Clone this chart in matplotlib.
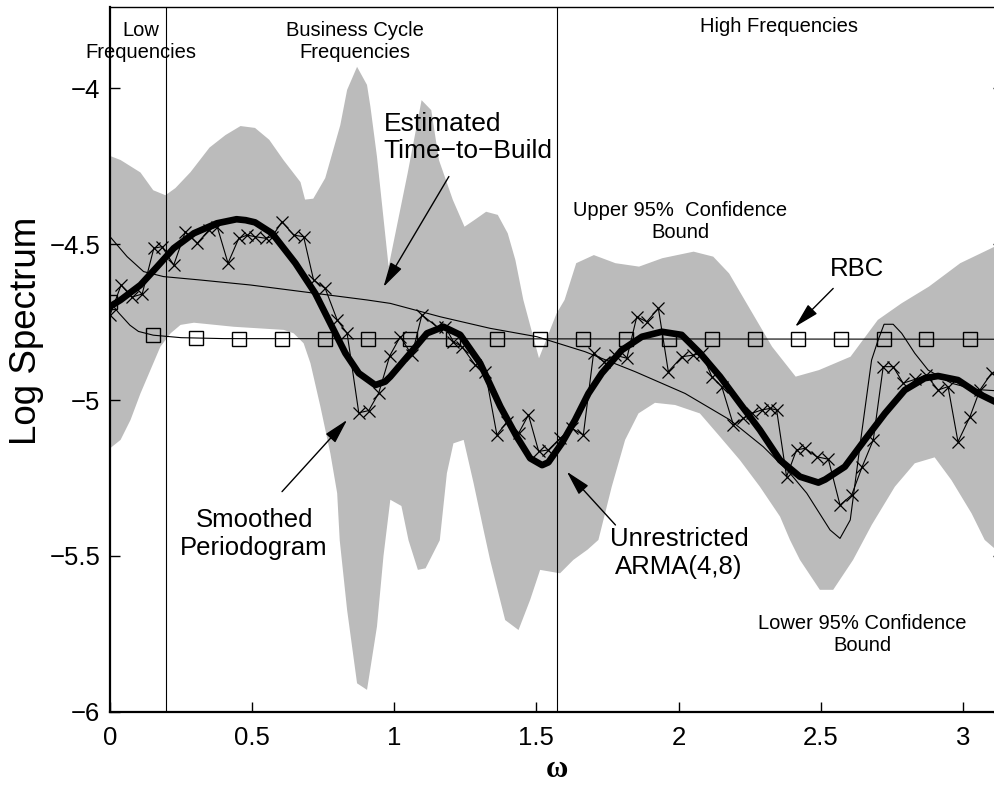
import numpy as np
import matplotlib
matplotlib.use("Agg")
import matplotlib.pyplot as plt

plt.rcParams['font.family'] = ['Liberation Sans', 'DejaVu Sans']

# ---------------- data ----------------
upper_x = [0.0, 0.037, 0.107, 0.152, 0.195, 0.23, 0.283, 0.35, 0.406, 0.459, 0.51, 0.56,
           0.61, 0.670, 0.686, 0.715, 0.757, 0.810, 0.834, 0.869, 0.904, 0.916, 0.939,
           0.980, 1.047, 1.096, 1.13, 1.157, 1.206, 1.247, 1.281, 1.323, 1.364, 1.399,
           1.426, 1.454, 1.509, 1.571, 1.599, 1.640, 1.702, 1.778, 1.861, 1.943, 2.053,
           2.122, 2.178, 2.219, 2.329, 2.412, 2.494, 2.605, 2.701, 2.784, 2.881, 2.991,
           3.112, 3.1416]
upper_y = [-4.217, -4.230, -4.27, -4.327, -4.343, -4.32, -4.269, -4.19, -4.150, -4.121,
           -4.127, -4.165, -4.23, -4.301, -4.357, -4.354, -4.288, -4.118, -4.005, -3.931,
           -3.989, -4.059, -4.219, -4.572, -4.272, -4.038, -4.07, -4.230, -4.358, -4.444,
           -4.423, -4.396, -4.406, -4.465, -4.551, -4.679, -4.866, -4.722, -4.679, -4.561,
           -4.535, -4.561, -4.572, -4.545, -4.524, -4.540, -4.594, -4.658, -4.829, -4.925,
           -4.904, -4.861, -4.743, -4.690, -4.636, -4.561, -4.508, -4.50]

lower_x = [0.0, 0.037, 0.072, 0.107, 0.142, 0.177, 0.213, 0.248, 0.295, 0.435, 0.611,
           0.646, 0.681, 0.705, 0.740, 0.775, 0.799, 0.808, 0.834, 0.869, 0.904, 0.939,
           0.962, 0.986, 1.025, 1.05, 1.083, 1.11, 1.16, 1.185, 1.208, 1.244, 1.279,
           1.314, 1.337, 1.390, 1.437, 1.478, 1.513, 1.583, 1.630, 1.68, 1.718, 1.765,
           1.812, 1.859, 1.917, 1.988, 2.075, 2.146, 2.216, 2.286, 2.357, 2.392, 2.427,
           2.497, 2.544, 2.614, 2.68, 2.761, 2.831, 2.901, 2.960, 3.031, 3.077, 3.1416]
lower_y = [-5.155, -5.128, -5.064, -4.979, -4.904, -4.829, -4.786, -4.759, -4.752, -4.765,
           -4.775, -4.786, -4.818, -4.882, -5.021, -5.171, -5.299, -5.45, -5.674, -5.909,
           -5.930, -5.727, -5.50, -5.32, -5.34, -5.45, -5.545, -5.54, -5.45, -5.235,
           -5.139, -5.128, -5.267, -5.417, -5.513, -5.706, -5.738, -5.641, -5.545, -5.556,
           -5.513, -5.48, -5.449, -5.278, -5.128, -5.043, -5.009, -5.016, -5.043, -5.118,
           -5.193, -5.278, -5.374, -5.449, -5.513, -5.609, -5.609, -5.513, -5.40, -5.278,
           -5.203, -5.184, -5.257, -5.364, -5.449, -5.50]

# smoothed periodogram (x markers)
pgram_x = [0.000, 0.039, 0.076, 0.113, 0.154, 0.183, 0.224, 0.265, 0.307, 0.347, 0.377,
           0.415, 0.453, 0.482, 0.511, 0.547, 0.570, 0.605, 0.646, 0.681, 0.716, 0.757,
           0.799, 0.834, 0.875, 0.910, 0.945, 0.984, 1.021, 1.062, 1.097, 1.150, 1.179,
           1.208, 1.238, 1.285, 1.320, 1.361, 1.396, 1.437, 1.472, 1.508, 1.542, 1.583,
           1.625, 1.665, 1.701, 1.736, 1.777, 1.818, 1.853, 1.888, 1.929, 1.964, 2.012,
           2.052, 2.082, 2.117, 2.152, 2.193, 2.228, 2.257, 2.292, 2.322, 2.345, 2.380,
           2.415, 2.445, 2.486, 2.527, 2.568, 2.609, 2.646, 2.685, 2.720, 2.755, 2.790,
           2.831, 2.872, 2.913, 2.948, 2.983, 3.025, 3.060, 3.101]
pgram_y = [-4.727, -4.631, -4.670, -4.660, -4.513, -4.508, -4.567, -4.460, -4.497, -4.455,
           -4.444, -4.561, -4.481, -4.471, -4.476, -4.481, -4.476, -4.428, -4.471, -4.476,
           -4.615, -4.642, -4.743, -4.786, -5.041, -5.034, -4.978, -4.858, -4.797, -4.856,
           -4.727, -4.765, -4.765, -4.813, -4.829, -4.888, -4.909, -5.112, -5.070, -5.107,
           -5.048, -5.165, -5.160, -5.123, -5.091, -5.112, -4.850, -4.877, -4.856, -4.866,
           -4.733, -4.749, -4.706, -4.909, -4.861, -4.856, -4.850, -4.925, -4.957, -5.080,
           -5.059, -5.043, -5.032, -5.027, -5.032, -5.246, -5.160, -5.155, -5.182, -5.190,
           -5.337, -5.305, -5.214, -5.128, -4.893, -4.893, -4.946, -4.934, -4.920, -4.968,
           -4.957, -5.134, -5.054, -4.968, -4.914]

# unrestricted ARMA(4,8) (thick line)
arma_x = [0.0, 0.037, 0.107, 0.166, 0.224, 0.295, 0.376, 0.445, 0.477, 0.51, 0.570, 0.652,
          0.722, 0.781, 0.828, 0.875, 0.933, 0.968, 0.986, 1.056, 1.115, 1.173, 1.232,
          1.302, 1.373, 1.431, 1.478, 1.52, 1.542, 1.589, 1.636, 1.683, 1.730, 1.800,
          1.871, 1.941, 2.011, 2.076, 2.146, 2.216, 2.286, 2.357, 2.427, 2.492, 2.516,
          2.585, 2.655, 2.726, 2.796, 2.866, 2.913, 2.983, 3.054, 3.112, 3.1416]
arma_y = [-4.700, -4.679, -4.631, -4.572, -4.513, -4.465, -4.433, -4.420, -4.423, -4.430,
          -4.465, -4.561, -4.658, -4.765, -4.850, -4.914, -4.952, -4.941, -4.925, -4.850,
          -4.786, -4.765, -4.791, -4.882, -5.021, -5.118, -5.187, -5.209, -5.200, -5.139,
          -5.064, -4.979, -4.914, -4.840, -4.797, -4.781, -4.791, -4.850, -4.925, -5.011,
          -5.096, -5.193, -5.246, -5.265, -5.255, -5.214, -5.128, -5.043, -4.968, -4.930,
          -4.923, -4.936, -4.979, -5.005, -5.015]

# estimated time-to-build (thin line)
ttb_x = [0.0, 0.06, 0.118, 0.188, 0.318, 0.494, 0.904, 0.986, 1.162, 1.337, 1.502, 1.671,
         1.847, 2.023, 2.181, 2.298, 2.392, 2.451, 2.533, 2.568, 2.604, 2.644, 2.679,
         2.702, 2.723, 2.755, 2.785, 2.831, 2.878, 2.960, 3.042, 3.112, 3.1416]
ttb_y = [-4.476, -4.540, -4.588, -4.604, -4.615, -4.631, -4.679, -4.690, -4.733, -4.770,
         -4.797, -4.845, -4.909, -4.979, -5.064, -5.150, -5.235, -5.299, -5.417, -5.444,
         -5.385, -5.107, -4.872, -4.808, -4.757, -4.757, -4.786, -4.850, -4.904, -4.946,
         -4.966, -4.970, -4.970]

# RBC model (line with squares)
rbc_x = [0.0, 0.03, 0.07, 0.10, 0.152, 0.25, 0.40, 3.1416]
rbc_y = [-4.685, -4.72, -4.76, -4.78, -4.792, -4.800, -4.803, -4.805]
rbc_mx = [0.0, 0.152, 0.303, 0.454, 0.605, 0.757, 0.908, 1.056, 1.208, 1.361, 1.513,
          1.665, 1.814, 1.967, 2.117, 2.269, 2.419, 2.570, 2.722, 2.872, 3.025]
rbc_my = [-4.685, -4.792, -4.802] + [-4.805] * 18

band_edges = [2 * np.pi / 32, np.pi / 2]
xticks = [0, 0.5, 1, 1.5, 2, 2.5, 3]
yticks = [-6, -5.5, -5, -4.5, -4]

# ---------------- figure ----------------
fig = plt.figure(figsize=(9.95, 7.85), dpi=100)
ax = fig.add_axes([0.1106, 0.0934, 0.8975, 0.8973])

ax.fill(list(upper_x) + list(lower_x[::-1]), list(upper_y) + list(lower_y[::-1]),
        color='#bbbbbb', lw=0, zorder=1)

for e in band_edges:
    ax.axvline(e, color='black', lw=0.8, zorder=2)

ax.plot(rbc_x, rbc_y, color='black', lw=0.8, zorder=3)
ax.plot(rbc_mx, rbc_my, ls='none', marker='s', ms=10, mfc='none', mec='black', mew=1.0,
        zorder=3)
ax.plot(ttb_x, ttb_y, color='black', lw=0.8, zorder=3)
ax.plot(pgram_x, pgram_y, color='black', lw=0.8, marker='x', ms=9, mew=0.9, zorder=4)
ax.plot(arma_x, arma_y, color='black', lw=4.8, solid_joinstyle='round',
        solid_capstyle='round', zorder=5)

ax.set_xlim(0, np.pi)
ax.set_ylim(-6, -3.74)
ax.set_xticks(xticks)
ax.set_xticklabels(['0', '0.5', '1', '1.5', '2', '2.5', '3'])
ax.set_yticks(yticks)
ax.set_yticklabels(['\u22126', '\u22125.5', '\u22125', '\u22124.5', '\u22124'])
ax.tick_params(direction='in', length=7, width=1, labelsize=18.5, right=True)
ax.tick_params(axis='x', pad=10)
ax.tick_params(axis='y', pad=7)
for s in ['left', 'bottom']:
    ax.spines[s].set_linewidth(1.6)
for s in ['top', 'right']:
    ax.spines[s].set_linewidth(1.0)

ax.set_ylabel('Log Spectrum', fontsize=26.5)
ax.yaxis.set_label_coords(-0.094, 0.54)
ax.yaxis.label.set_verticalalignment('center')
ax.set_xlabel('\u03c9', fontsize=22, family=['Liberation Serif', 'DejaVu Serif'],
              fontweight='bold', labelpad=4)

big = 18.5
small = 14.5
ax.text(0.107, -3.850, 'Low\nFrequencies', ha='center', va='center', fontsize=small,
        clip_on=False)
ax.text(0.863, -3.849, 'Business Cycle\nFrequencies', ha='center', va='center',
        fontsize=small)
ax.text(2.353, -3.800, 'High Frequencies', ha='center', va='center', fontsize=small)
ax.text(2.005, -4.428, 'Upper 95%  Confidence\nBound', ha='center', va='center',
        fontsize=small)
ax.text(2.647, -5.752, 'Lower 95% Confidence\nBound', ha='center', va='center',
        fontsize=small)
ax.text(0.962, -4.158, 'Estimated\nTime\u2212to\u2212Build', ha='left', va='center',
        fontsize=19)
ax.text(2.629, -4.580, 'RBC', ha='center', va='center', fontsize=big)
ax.text(0.507, -5.43, 'Smoothed\nPeriodogram', ha='center', va='center', fontsize=big)
ax.text(2.002, -5.49, 'Unrestricted\nARMA(4,8)', ha='center', va='center', fontsize=big)

aprops = dict(arrowstyle='-|>,head_length=0.85,head_width=0.22', color='black', lw=1.0,
              mutation_scale=18, shrinkA=0, shrinkB=0)
ax.annotate('', xy=(0.962, -4.637), xytext=(1.192, -4.283), arrowprops=aprops, zorder=6)
ax.annotate('', xy=(0.834, -5.064), xytext=(0.605, -5.294), arrowprops=aprops, zorder=6)
ax.annotate('', xy=(1.607, -5.230), xytext=(1.778, -5.401), arrowprops=aprops, zorder=6)
ax.annotate('', xy=(2.410, -4.765), xytext=(2.544, -4.642), arrowprops=aprops, zorder=6)

fig.savefig('out.png', dpi=100)
